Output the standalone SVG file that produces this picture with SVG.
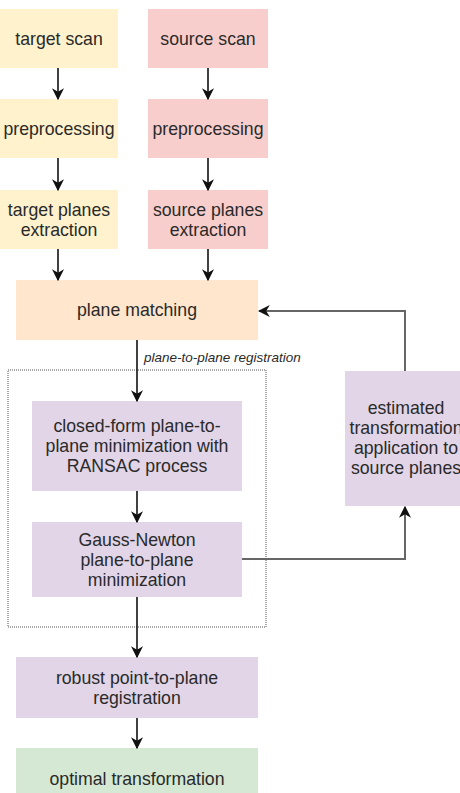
<svg xmlns="http://www.w3.org/2000/svg" width="460" height="793" viewBox="0 0 460 793">
<defs>
<style>
.t{font-family:"Liberation Sans",Arial,sans-serif;font-size:17.7px;fill:#2a2a2a;text-anchor:middle;dominant-baseline:central}
.lbl{font-family:"Liberation Sans",Arial,sans-serif;font-size:13.5px;font-style:italic;fill:#2a2a2a;dominant-baseline:central}
.a{stroke:#111;stroke-width:1.6;fill:none}
.g{stroke:#666;stroke-width:2;fill:none}
.y{fill:#fff2cc}.p{fill:#f8cecc}.o{fill:#ffe6cc}.v{fill:#e1d5e7}.gr{fill:#d5e8d4}
</style>
<marker id="ah" viewBox="0 0 10 10" refX="9" refY="5" markerWidth="12" markerHeight="12" markerUnits="userSpaceOnUse" orient="auto">
<path d="M0,0 L10,5 L0,10 L3,5 Z" fill="#111"/>
</marker>
</defs>
<rect x="8" y="370" width="258" height="257" fill="none" stroke="#555" stroke-width="1" stroke-dasharray="1 1"/>
<g id="target-scan"><rect class="y" x="0" y="9" width="118" height="59"/><text class="t" x="59" y="38.5">target scan</text></g>
<g id="source-scan"><rect class="p" x="148" y="9" width="120" height="59"/><text class="t" x="208" y="38.5">source scan</text></g>
<g id="target-pre"><rect class="y" x="0" y="99" width="118" height="59"/><text class="t" x="59" y="128.5">preprocessing</text></g>
<g id="source-pre"><rect class="p" x="148" y="99" width="120" height="59"/><text class="t" x="208" y="128.5">preprocessing</text></g>
<g id="target-ext"><rect class="y" x="0" y="190" width="118" height="59"/><text class="t" x="59" y="210">target planes</text><text class="t" x="59" y="230">extraction</text></g>
<g id="source-ext"><rect class="p" x="148" y="190" width="120" height="59"/><text class="t" x="208" y="210">source planes</text><text class="t" x="208" y="230">extraction</text></g>
<g id="plane-matching"><rect class="o" x="16" y="280" width="242" height="60"/><text class="t" x="137" y="310">plane matching</text></g>
<g id="closed-form"><rect class="v" x="32" y="401" width="210" height="90"/><text class="t" x="137" y="426">closed-form plane-to-</text><text class="t" x="137" y="446">plane minimization with</text><text class="t" x="137" y="466">RANSAC process</text></g>
<g id="gauss-newton"><rect class="v" x="32" y="522" width="210" height="75"/><text class="t" x="137" y="539.5">Gauss-Newton</text><text class="t" x="137" y="559.5">plane-to-plane</text><text class="t" x="137" y="579.5">minimization</text></g>
<g id="estimated"><rect class="v" x="345" y="371" width="122" height="135"/><text class="t" x="406" y="408">estimated</text><text class="t" x="406" y="428">transformation</text><text class="t" x="406" y="448">application to</text><text class="t" x="406" y="468">source planes</text></g>
<g id="robust"><rect class="v" x="16" y="657" width="242" height="61"/><text class="t" x="137" y="677.5">robust point-to-plane</text><text class="t" x="137" y="697.5">registration</text></g>
<g id="optimal"><rect class="gr" x="16" y="748" width="242" height="62"/><text class="t" x="137" y="779">optimal transformation</text></g>
<g id="connectors">
<line class="a" x1="58" y1="68" x2="58" y2="99" marker-end="url(#ah)"/>
<line class="a" x1="208" y1="68" x2="208" y2="99" marker-end="url(#ah)"/>
<line class="a" x1="58" y1="158" x2="58" y2="190" marker-end="url(#ah)"/>
<line class="a" x1="208" y1="158" x2="208" y2="190" marker-end="url(#ah)"/>
<line class="a" x1="58" y1="249" x2="58" y2="280" marker-end="url(#ah)"/>
<line class="a" x1="208" y1="249" x2="208" y2="280" marker-end="url(#ah)"/>
<line class="a" x1="137" y1="340" x2="137" y2="401" marker-end="url(#ah)"/>
<text class="lbl" x="144" y="357">plane-to-plane registration</text>
<line class="a" x1="137" y1="491" x2="137" y2="522" marker-end="url(#ah)"/>
<line class="a" x1="137" y1="597" x2="137" y2="657" marker-end="url(#ah)"/>
<line class="a" x1="137" y1="718" x2="137" y2="748" marker-end="url(#ah)"/>
<polyline class="g" points="242,559 405,559 405,507" marker-end="url(#ah)"/>
<polyline class="g" points="405,371 405,311 259,311" marker-end="url(#ah)"/>
</g>
</svg>
